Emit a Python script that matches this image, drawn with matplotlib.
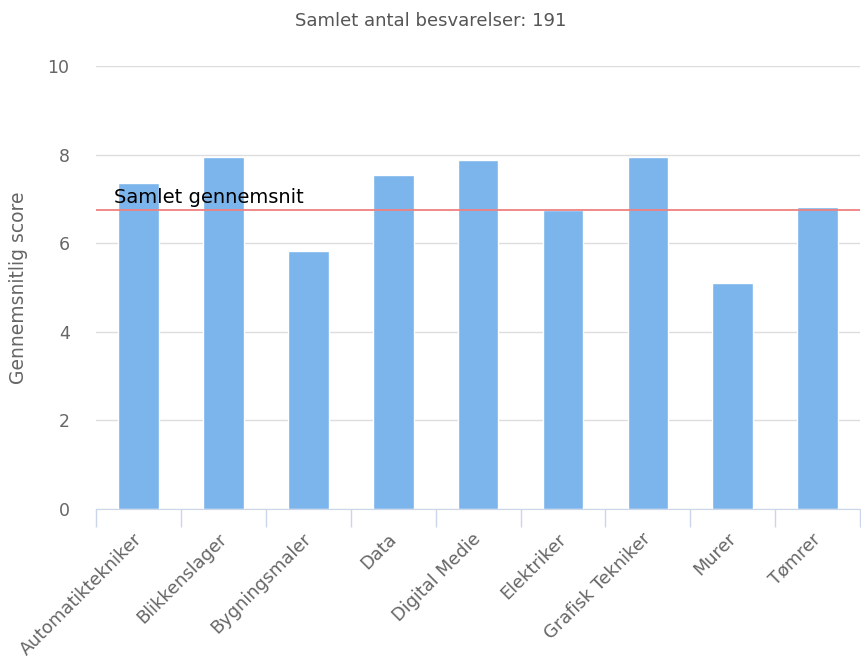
import matplotlib
matplotlib.use("Agg")
from matplotlib import pyplot as plt
import matplotlib.transforms as mtransforms
import numpy as np

categories = ["Automatiktekniker", "Blikkenslager", "Bygningsmaler", "Data",
              "Digital Medie", "Elektriker", "Grafisk Tekniker", "Murer", "Tømrer"]
scores = [7.37, 7.95, 5.82, 7.55, 7.88, 6.76, 7.95, 5.10, 6.82]
overall_avg = 6.76
respondents = 191

fig = plt.figure(figsize=(8.61, 6.6), dpi=100)
ax = fig.add_axes([0.1115, 0.2288, 0.8875, 0.6712])

x = np.arange(len(categories))
ax.bar(x, scores, width=0.48, color="#7cb5ec", edgecolor="white", linewidth=1, zorder=2)
ax.axhline(overall_avg, color="#f08080", linewidth=1.3, zorder=3)
ax.text(-0.29, overall_avg + 0.06, "Samlet gennemsnit", fontsize=14, color="black",
        va="bottom", ha="left", zorder=4)

ax.set_xlim(-0.5, len(categories) - 0.5)
ax.set_ylim(0, 10)
ax.set_yticks([0, 2, 4, 6, 8, 10])
ax.yaxis.grid(True, color="#dddddd", linewidth=1, zorder=0)
ax.tick_params(axis="y", length=0, pad=19, labelsize=12.5, labelcolor="#666666")

ax.set_xticks(x)
ax.set_xticklabels(categories, rotation=45, ha="right", rotation_mode="anchor",
                   fontsize=12.8, color="#666666")
ax.tick_params(axis="x", which="major", length=0, pad=15)
shift = mtransforms.ScaledTranslation(-6 / 100, 0, fig.dpi_scale_trans)
for lbl in ax.get_xticklabels():
    lbl.set_transform(lbl.get_transform() + shift)
ax.set_xticks(np.arange(len(categories) + 1) - 0.5, minor=True)
ax.tick_params(axis="x", which="minor", length=13, color="#ccd6eb", width=1)

for side in ["left", "right", "top"]:
    ax.spines[side].set_visible(False)
ax.spines["bottom"].set_color("#ccd6eb")

ax.set_ylabel("Gennemsnitlig score", fontsize=13.5, color="#666666", labelpad=14)
fig.text(0.5, 0.968, "Samlet antal besvarelser: " + str(respondents), ha="center",
         va="center", fontsize=13, color="#555555")

fig.savefig("out.png", dpi=100)
